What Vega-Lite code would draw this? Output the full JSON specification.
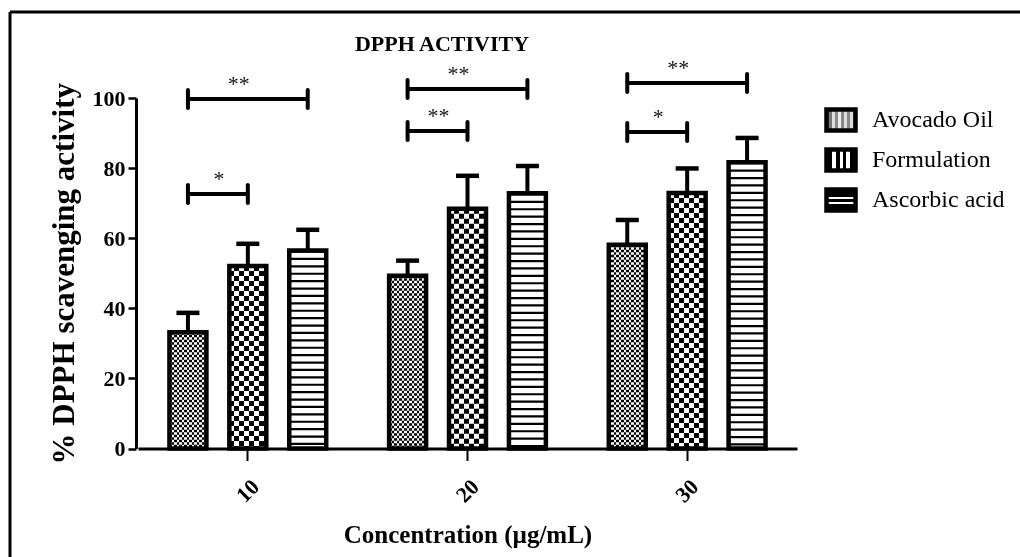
{
  "$schema": "https://vega.github.io/schema/vega-lite/v6.json",
  "width": 1010,
  "height": 545,
  "autosize": {"type": "none"},
  "padding": {"left": 10, "top": 12, "right": 0, "bottom": 0},
  "background": "white",
  "title": {
    "text": "DPPH ACTIVITY",
    "font": "Liberation Serif",
    "fontSize": 22,
    "fontWeight": "bold",
    "color": "black",
    "anchor": "middle",
    "baseline": "alphabetic",
    "dx": -73,
    "offset": -61
  },
  "datasets": {
    "bars": [
      {"conc": "10", "group": "Avocado Oil", "value": 33.2, "upper": 38.7},
      {"conc": "10", "group": "Formulation", "value": 52.1, "upper": 58.4},
      {"conc": "10", "group": "Ascorbic acid", "value": 56.5, "upper": 62.4},
      {"conc": "20", "group": "Avocado Oil", "value": 49.3, "upper": 53.6},
      {"conc": "20", "group": "Formulation", "value": 68.4, "upper": 77.8},
      {"conc": "20", "group": "Ascorbic acid", "value": 72.8, "upper": 80.6},
      {"conc": "30", "group": "Avocado Oil", "value": 58.1, "upper": 65.2},
      {"conc": "30", "group": "Formulation", "value": 72.9, "upper": 79.9},
      {"conc": "30", "group": "Ascorbic acid", "value": 81.7, "upper": 88.6}
    ],
    "brackets": [
      {"pair": "10a", "conc": "10", "group": "Avocado Oil", "level": 99.7},
      {"pair": "10a", "conc": "10", "group": "Ascorbic acid", "level": 99.7},
      {"pair": "10b", "conc": "10", "group": "Avocado Oil", "level": 72.6},
      {"pair": "10b", "conc": "10", "group": "Formulation", "level": 72.6},
      {"pair": "20a", "conc": "20", "group": "Avocado Oil", "level": 102.6},
      {"pair": "20a", "conc": "20", "group": "Ascorbic acid", "level": 102.6},
      {"pair": "20b", "conc": "20", "group": "Avocado Oil", "level": 90.6},
      {"pair": "20b", "conc": "20", "group": "Formulation", "level": 90.6},
      {"pair": "30a", "conc": "30", "group": "Avocado Oil", "level": 104.3},
      {"pair": "30a", "conc": "30", "group": "Ascorbic acid", "level": 104.3},
      {"pair": "30b", "conc": "30", "group": "Avocado Oil", "level": 90.3},
      {"pair": "30b", "conc": "30", "group": "Formulation", "level": 90.3}
    ],
    "stars": [
      {"conc": "10", "span": "wide", "group": "Formulation", "level": 99.7, "label": "**"},
      {"conc": "10", "span": "narrow", "group": "Avocado Oil", "level": 72.6, "label": "*"},
      {"conc": "20", "span": "wide", "group": "Formulation", "level": 102.6, "label": "**"},
      {"conc": "20", "span": "narrow", "group": "Avocado Oil", "level": 90.6, "label": "**"},
      {"conc": "30", "span": "wide", "group": "Formulation", "level": 104.3, "label": "**"},
      {"conc": "30", "span": "narrow", "group": "Avocado Oil", "level": 90.3, "label": "*"}
    ]
  },
  "encoding": {
    "x": {
      "field": "conc",
      "type": "nominal",
      "title": "Concentration (µg/mL)",
      "scale": {"type": "band", "domain": ["10", "20", "30"], "range": [128, 787], "paddingInner": 0, "paddingOuter": 0},
      "axis": {
        "offset": -108.5,
        "labelAngle": -45,
        "labelAlign": "center",
        "labelBaseline": "middle",
        "labelPadding": 30,
        "tickSize": 12,
        "tickWidth": 2,
        "domainWidth": 3,
        "labelFont": "Liberation Serif",
        "labelFontWeight": "bold",
        "labelFontSize": 22,
        "titleFont": "Liberation Serif",
        "titleFontWeight": "bold",
        "titleFontSize": 25,
        "titlePadding": 16
      }
    },
    "xOffset": {
      "field": "group",
      "type": "nominal",
      "scale": {"type": "band", "domain": ["Avocado Oil", "Formulation", "Ascorbic acid"], "paddingInner": 0.383, "paddingOuter": 0.525}
    }
  },
  "layer": [
    {
      "data": {"name": "bars"},
      "transform": [{"filter": "datum.group === 'Avocado Oil'"}],
      "mark": {"type": "rule", "strokeWidth": 37, "strokeCap": "butt", "color": "black", "strokeDash": [2.5, 2.5]},
      "encoding": {
        "y": {
          "field": "value",
          "type": "quantitative",
          "title": "% DPPH scavenging activity",
          "scale": {"domain": [0, 100], "range": [436.5, 86], "nice": false, "zero": true},
          "axis": {
            "values": [0, 20, 40, 60, 80, 100],
            "offset": -126,
            "domainWidth": 3,
            "tickWidth": 2.5,
            "tickSize": 8,
            "labelPadding": 3,
            "labelFont": "Liberation Serif",
            "labelFontWeight": "bold",
            "labelFontSize": 22,
            "titleFont": "Liberation Serif",
            "titleFontWeight": "bold",
            "titleFontSize": 31,
            "titlePadding": 12
          }
        },
        "y2": {"datum": 0}
      }
    },
    {
      "data": {"name": "bars"},
      "transform": [{"filter": "datum.group === 'Formulation'"}],
      "mark": {"type": "rule", "strokeWidth": 37, "strokeCap": "butt", "color": "black", "strokeDash": [5, 5]},
      "encoding": {
        "y": {"field": "value", "type": "quantitative", "title": "% DPPH scavenging activity"},
        "y2": {"datum": 0}
      }
    },
    {
      "data": {"name": "bars"},
      "transform": [{"filter": "datum.group === 'Ascorbic acid'"}],
      "mark": {"type": "rule", "strokeWidth": 37, "strokeCap": "butt", "color": "black", "strokeDash": [2.2, 5.2]},
      "encoding": {
        "y": {"field": "value", "type": "quantitative", "title": "% DPPH scavenging activity"},
        "y2": {"datum": 0}
      }
    },
    {
      "data": {"name": "bars"},
      "transform": [{"filter": "datum.group === 'Avocado Oil'"}],
      "mark": {
        "type": "bar",
        "blend": "difference",
        "fill": {
          "gradient": "linear", "x1": 0, "y1": 0, "x2": 1, "y2": 0,
          "stops": [
            {"offset": 0, "color": "white"}, {"offset": 0.0676, "color": "white"},
            {"offset": 0.0676, "color": "black"}, {"offset": 0.1351, "color": "black"},
            {"offset": 0.1351, "color": "white"}, {"offset": 0.2027, "color": "white"},
            {"offset": 0.2027, "color": "black"}, {"offset": 0.2703, "color": "black"},
            {"offset": 0.2703, "color": "white"}, {"offset": 0.3378, "color": "white"},
            {"offset": 0.3378, "color": "black"}, {"offset": 0.4054, "color": "black"},
            {"offset": 0.4054, "color": "white"}, {"offset": 0.473, "color": "white"},
            {"offset": 0.473, "color": "black"}, {"offset": 0.5405, "color": "black"},
            {"offset": 0.5405, "color": "white"}, {"offset": 0.6081, "color": "white"},
            {"offset": 0.6081, "color": "black"}, {"offset": 0.6757, "color": "black"},
            {"offset": 0.6757, "color": "white"}, {"offset": 0.7432, "color": "white"},
            {"offset": 0.7432, "color": "black"}, {"offset": 0.8108, "color": "black"},
            {"offset": 0.8108, "color": "white"}, {"offset": 0.8784, "color": "white"},
            {"offset": 0.8784, "color": "black"}, {"offset": 0.9459, "color": "black"},
            {"offset": 0.9459, "color": "white"}, {"offset": 1, "color": "white"}
          ]
        }
      },
      "encoding": {
        "y": {"field": "value", "type": "quantitative", "title": "% DPPH scavenging activity"}
      }
    },
    {
      "data": {"name": "bars"},
      "transform": [{"filter": "datum.group === 'Formulation'"}],
      "mark": {
        "type": "bar",
        "blend": "difference",
        "fill": {
          "gradient": "linear", "x1": 0, "y1": 0, "x2": 1, "y2": 0,
          "stops": [
            {"offset": 0, "color": "white"}, {"offset": 0.1351, "color": "white"},
            {"offset": 0.1351, "color": "black"}, {"offset": 0.2703, "color": "black"},
            {"offset": 0.2703, "color": "white"}, {"offset": 0.4054, "color": "white"},
            {"offset": 0.4054, "color": "black"}, {"offset": 0.5405, "color": "black"},
            {"offset": 0.5405, "color": "white"}, {"offset": 0.6757, "color": "white"},
            {"offset": 0.6757, "color": "black"}, {"offset": 0.8108, "color": "black"},
            {"offset": 0.8108, "color": "white"}, {"offset": 0.9459, "color": "white"},
            {"offset": 0.9459, "color": "black"}, {"offset": 1, "color": "black"}
          ]
        }
      },
      "encoding": {
        "y": {"field": "value", "type": "quantitative", "title": "% DPPH scavenging activity"}
      }
    },
    {
      "data": {"name": "bars"},
      "mark": {"type": "bar", "fillOpacity": 0, "stroke": "black", "strokeWidth": 4.5},
      "encoding": {
        "y": {"field": "value", "type": "quantitative", "title": "% DPPH scavenging activity"},
        "fill": {
          "field": "group",
          "type": "nominal",
          "scale": {
            "domain": ["Avocado Oil", "Formulation", "Ascorbic acid"],
            "range": [
              {"expr": "{gradient: 'linear', x1: 0, y1: 0, x2: 1, y2: 0, stops: [{offset: 0, color: '#777'}, {offset: 0.2, color: '#777'}, {offset: 0.2, color: '#ddd'}, {offset: 0.3, color: '#ddd'}, {offset: 0.3, color: '#888'}, {offset: 0.4, color: '#888'}, {offset: 0.4, color: '#eee'}, {offset: 0.5, color: '#eee'}, {offset: 0.5, color: '#888'}, {offset: 0.6, color: '#888'}, {offset: 0.6, color: '#ddd'}, {offset: 0.7, color: '#ddd'}, {offset: 0.7, color: '#888'}, {offset: 0.8, color: '#888'}, {offset: 0.8, color: '#ddd'}, {offset: 0.9, color: '#ddd'}, {offset: 0.9, color: '#777'}, {offset: 1, color: '#777'}]}"},
              {"expr": "{gradient: 'linear', x1: 0, y1: 0, x2: 1, y2: 0, stops: [{offset: 0, color: 'black'}, {offset: 0.2, color: 'black'}, {offset: 0.2, color: 'white'}, {offset: 0.33, color: 'white'}, {offset: 0.33, color: 'black'}, {offset: 0.45, color: 'black'}, {offset: 0.45, color: 'white'}, {offset: 0.58, color: 'white'}, {offset: 0.58, color: 'black'}, {offset: 0.68, color: 'black'}, {offset: 0.68, color: 'white'}, {offset: 0.8, color: 'white'}, {offset: 0.8, color: 'black'}, {offset: 1, color: 'black'}]}"},
              {"expr": "{gradient: 'linear', x1: 0, y1: 0, x2: 0, y2: 1, stops: [{offset: 0, color: 'black'}, {offset: 0.36, color: 'black'}, {offset: 0.36, color: 'white'}, {offset: 0.46, color: 'white'}, {offset: 0.46, color: 'black'}, {offset: 0.6, color: 'black'}, {offset: 0.6, color: 'white'}, {offset: 0.7, color: 'white'}, {offset: 0.7, color: 'black'}, {offset: 1, color: 'black'}]}"}
            ]
          },
          "legend": {
            "title": null,
            "orient": "none",
            "legendX": 814,
            "legendY": 91,
            "symbolType": "M-1,-0.724L1,-0.724L1,0.724L-1,0.724Z",
            "symbolSize": 841,
            "symbolStrokeWidth": 4.5,
            "symbolStrokeColor": "black",
            "labelFont": "Liberation Serif",
            "labelFontSize": 24,
            "labelColor": "black",
            "labelOffset": 14,
            "rowPadding": 0,
            "encode": {
              "symbols": {
                "update": {
                  "fillOpacity": {"value": 1},
                  "stroke": {"value": "black"},
                  "strokeWidth": {"value": 4.5}
                }
              }
            }
          }
        }
      }
    },
    {
      "data": {"name": "bars"},
      "mark": {"type": "rule", "strokeWidth": 4, "color": "black"},
      "encoding": {
        "y": {"field": "value", "type": "quantitative", "title": "% DPPH scavenging activity"},
        "y2": {"field": "upper"}
      }
    },
    {
      "data": {"name": "bars"},
      "mark": {"type": "tick", "orient": "horizontal", "size": 23, "thickness": 4.5, "color": "black", "opacity": 1},
      "encoding": {
        "y": {"field": "upper", "type": "quantitative", "title": "% DPPH scavenging activity"}
      }
    },
    {
      "data": {"name": "brackets"},
      "mark": {"type": "line", "strokeWidth": 4, "color": "black", "strokeCap": "butt"},
      "encoding": {
        "y": {"field": "level", "type": "quantitative", "title": "% DPPH scavenging activity"},
        "detail": {"field": "pair", "type": "nominal"}
      }
    },
    {
      "data": {"name": "brackets"},
      "mark": {"type": "tick", "orient": "vertical", "size": 22, "thickness": 4, "color": "black", "opacity": 1, "cornerRadius": 2},
      "encoding": {
        "y": {"field": "level", "type": "quantitative", "title": "% DPPH scavenging activity"}
      }
    },
    {
      "data": {"name": "stars"},
      "transform": [{"filter": "datum.span === 'wide'"}],
      "mark": {"type": "text", "font": "Liberation Serif", "fontSize": 22, "color": "#111", "baseline": "alphabetic", "dx": -9, "dy": -8},
      "encoding": {
        "y": {"field": "level", "type": "quantitative", "title": "% DPPH scavenging activity"},
        "text": {"field": "label"}
      }
    },
    {
      "data": {"name": "stars"},
      "transform": [{"filter": "datum.span === 'narrow'"}],
      "mark": {"type": "text", "font": "Liberation Serif", "fontSize": 22, "color": "#111", "baseline": "alphabetic", "dx": 31, "dy": -8},
      "encoding": {
        "y": {"field": "level", "type": "quantitative", "title": "% DPPH scavenging activity"},
        "text": {"field": "label"}
      }
    }
  ],
  "config": {
    "font": "Liberation Serif",
    "view": {"stroke": "black", "strokeWidth": 3, "strokeDash": [1010, 1555, 545, 0]},
    "axis": {"grid": false, "domainColor": "black", "tickColor": "black", "labelColor": "black", "titleColor": "black"}
  }
}
